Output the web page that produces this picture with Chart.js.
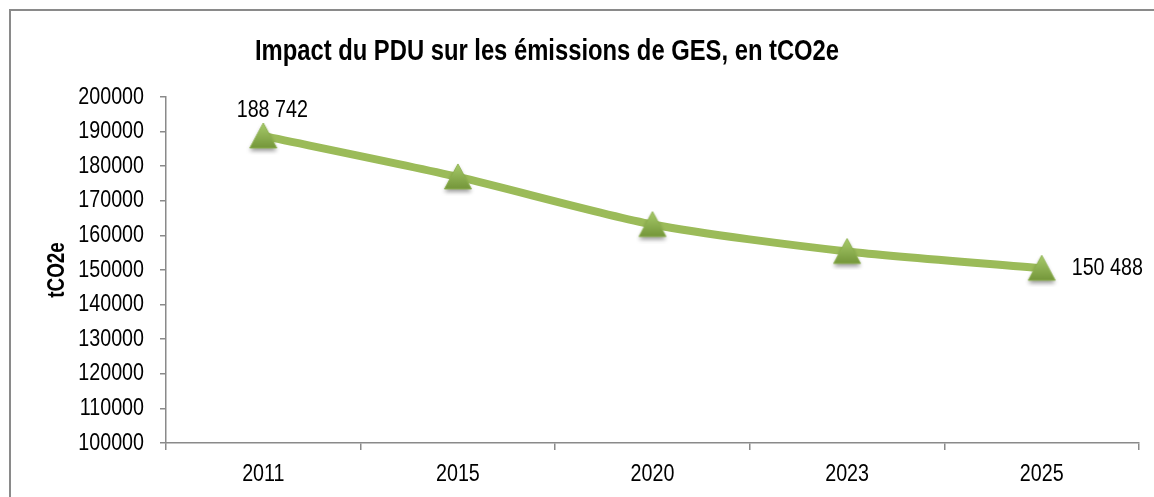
<!DOCTYPE html>
<html>
<head>
<meta charset="utf-8">
<script src="https://cdn.jsdelivr.net/npm/chart.js@4.4.1/dist/chart.umd.min.js"></script>
<style>
  html, body { margin: 0; padding: 0; background: #fff; }
  #wrap { position: relative; width: 1154px; height: 497px; overflow: hidden; }
  #frame { position: absolute; left: 9px; top: 9px; width: 1200px; height: 600px;
           border-top: 2px solid #8a8a8a; border-left: 2px solid #8a8a8a; box-sizing: border-box; }
  canvas { position: absolute; left: 0; top: 0; }
</style>
</head>
<body>
<div id="wrap">
  <div id="frame"></div>
  <canvas id="c" width="1154" height="497"></canvas>
</div>
<script>
const categories = ['2011', '2015', '2020', '2023', '2025'];
const emissions = [188742, 176900, 163150, 155350, 150488];
const yTicks = [100000, 110000, 120000, 130000, 140000, 150000, 160000, 170000, 180000, 190000, 200000];
const titleText = 'Impact du PDU sur les émissions de GES, en tCO2e';
const yTitle = 'tCO2e';
const labelledPoints = [0, 4];

const FONT = '"Liberation Sans", Arial, sans-serif';
const NARROW = 0.82;

// Emulate a narrow face (Arial Narrow look): condense text horizontally along its baseline.
(function () {
  const proto = CanvasRenderingContext2D.prototype;
  const orig = proto.fillText;
  proto.fillText = function (text, x, y, maxWidth) {
    this.save();
    this.translate(x, y);
    this.scale(NARROW, 1);
    if (maxWidth !== undefined) orig.call(this, text, 0, 0, maxWidth / NARROW);
    else orig.call(this, text, 0, 0);
    this.restore();
  };
})();

// Triangle marker sprite (gradient + soft shadow), centred on its bounding box.
function makeMarker() {
  const c = document.createElement('canvas');
  c.width = 34; c.height = 38;
  const g = c.getContext('2d');
  const top = 6, base = 31, cx = 17, half = 13.5;
  g.save();
  g.shadowColor = 'rgba(0,0,0,0.4)';
  g.shadowBlur = 4;
  g.shadowOffsetY = 3;
  const grad = g.createLinearGradient(0, top, 0, base);
  grad.addColorStop(0, '#A8CB6B');
  grad.addColorStop(1, '#74963A');
  g.fillStyle = grad;
  g.beginPath();
  g.moveTo(cx, top);
  g.lineTo(cx + half, base);
  g.lineTo(cx - half, base);
  g.closePath();
  g.fill();
  g.restore();
  g.strokeStyle = 'rgba(140,176,76,0.9)';
  g.lineWidth = 1;
  g.stroke();
  return c;
}
const marker = makeMarker();

function fmt(v) {
  return String(v).replace(/\B(?=(\d{3})+(?!\d))/g, ' ');
}

const titlePlugin = {
  id: 'titleDraw',
  afterDraw(chart) {
    const ctx = chart.ctx;
    ctx.save();
    ctx.font = 'bold 29px ' + FONT;
    ctx.fillStyle = '#000';
    ctx.textAlign = 'center';
    ctx.textBaseline = 'middle';
    ctx.fillText(titleText, 547, 52);
    ctx.restore();
  }
};

const labelPlugin = {
  id: 'pointLabels',
  afterDatasetsDraw(chart) {
    const meta = chart.getDatasetMeta(0);
    const ctx = chart.ctx;
    ctx.save();
    ctx.font = '24px ' + FONT;
    ctx.fillStyle = '#000';
    ctx.textBaseline = 'middle';
    labelledPoints.forEach(i => {
      const pt = meta.data[i];
      const txt = fmt(emissions[i]);
      if (i === 0) {
        ctx.textAlign = 'center';
        ctx.fillText(txt, pt.x + 9, pt.y - 26);
      } else {
        ctx.textAlign = 'left';
        ctx.fillText(txt, pt.x + 30, pt.y);
      }
    });
    ctx.restore();
  }
};

new Chart(document.getElementById('c'), {
  type: 'line',
  data: {
    labels: categories,
    datasets: [{
      data: emissions,
      borderColor: '#9BBB59',
      borderWidth: 8,
      tension: 0.25,
      pointStyle: marker,
      pointRadius: 15,
      pointHoverRadius: 15
    }]
  },
  options: {
    responsive: false,
    animation: false,
    events: [],
    layout: { autoPadding: false, padding: { top: 97, right: 15, left: 0, bottom: 0 } },
    plugins: { legend: { display: false }, title: { display: false }, tooltip: { enabled: false } },
    scales: {
      x: {
        offset: true,
        grid: { offset: true, drawOnChartArea: false, drawTicks: true, tickLength: 7, color: '#8a8a8a', lineWidth: 1.5 },
        border: { color: '#8a8a8a', width: 1.5 },
        ticks: { color: '#000', font: { family: FONT, size: 24 }, padding: 10 },
        afterFit(s) { s.height = 54; }
      },
      y: {
        min: 100000,
        max: 200000,
        afterBuildTicks(s) { s.ticks = yTicks.map(v => ({ value: v })); },
        grid: { drawOnChartArea: false, drawTicks: true, tickLength: 6, color: '#8a8a8a', lineWidth: 1.5 },
        border: { color: '#8a8a8a', width: 1.5 },
        ticks: { color: '#000', font: { family: FONT, size: 24 }, padding: 16, callback: (v) => String(v) },
        title: { display: true, text: yTitle, color: '#000', font: { family: FONT, size: 23, weight: 'bold' }, padding: { top: 44, bottom: 0 } },
        afterFit(s) { s.width = 166; }
      }
    }
  },
  plugins: [titlePlugin, labelPlugin]
});
</script>
</body>
</html>
